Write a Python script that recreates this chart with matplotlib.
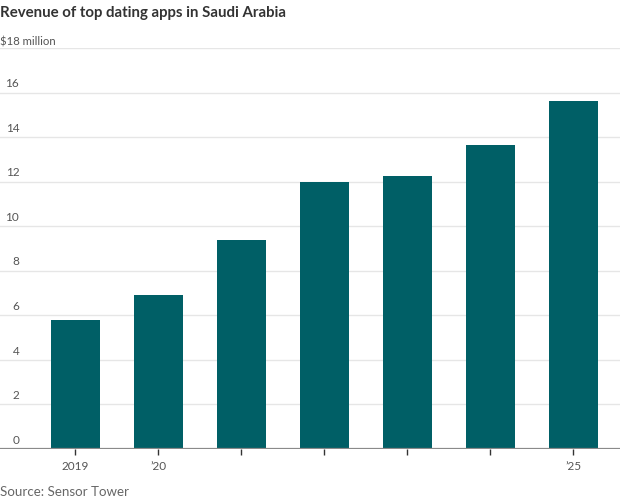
import matplotlib.pyplot as plt

# data
years = [2019, 2020, 2021, 2022, 2023, 2024, 2025]
revenue = [5.8, 6.9, 9.4, 12.0, 12.25, 13.65, 15.6]
xlabels = ['2019', '\u201920', '', '', '', '', '\u201925']
yticks = [0, 2, 4, 6, 8, 10, 12, 14, 16]

plt.rcParams['font.family'] = ['Lato', 'DejaVu Sans']

fig = plt.figure(figsize=(6.2, 5.0), dpi=100)
ax = fig.add_axes([0, 0.102, 1, 0.802])

pos = list(range(len(years)))
ax.bar(pos, revenue, width=0.59, color='#005f66', zorder=2)

ax.set_xlim(-0.904, 6.566)
ax.set_ylim(0, 18)

# gridlines
for v in yticks[1:] + [18]:
    ax.axhline(v, color='#e6e6e6', linewidth=1, zorder=1)
ax.axhline(0, color='#8a8a8a', linewidth=1.6, zorder=3)

# y labels sitting above the gridlines, inside the plot
for v in yticks:
    ax.text(0.031, v + 0.15, str(v), transform=ax.get_yaxis_transform(),
            ha='right', va='bottom', fontsize=8.5, color='#555555')
ax.set_yticks([])

ax.set_xticks(pos)
ax.set_xticklabels(xlabels, fontsize=8.5, color='#555555')
ax.tick_params(axis='x', length=4, width=1, color='#333333', pad=5)

for s in ax.spines.values():
    s.set_visible(False)

fig.text(0.0, 0.975, 'Revenue of top dating apps in Saudi Arabia',
         fontsize=10.8, fontweight='bold', color='#333333', va='center')
fig.text(0.0, 0.916, '$18 million', fontsize=8.2, color='#555555', va='center')
fig.text(0.0, 0.017, 'Source: Sensor Tower', fontsize=9.6, color='#666666',
         va='center')

fig.savefig('out.png', dpi=100)
